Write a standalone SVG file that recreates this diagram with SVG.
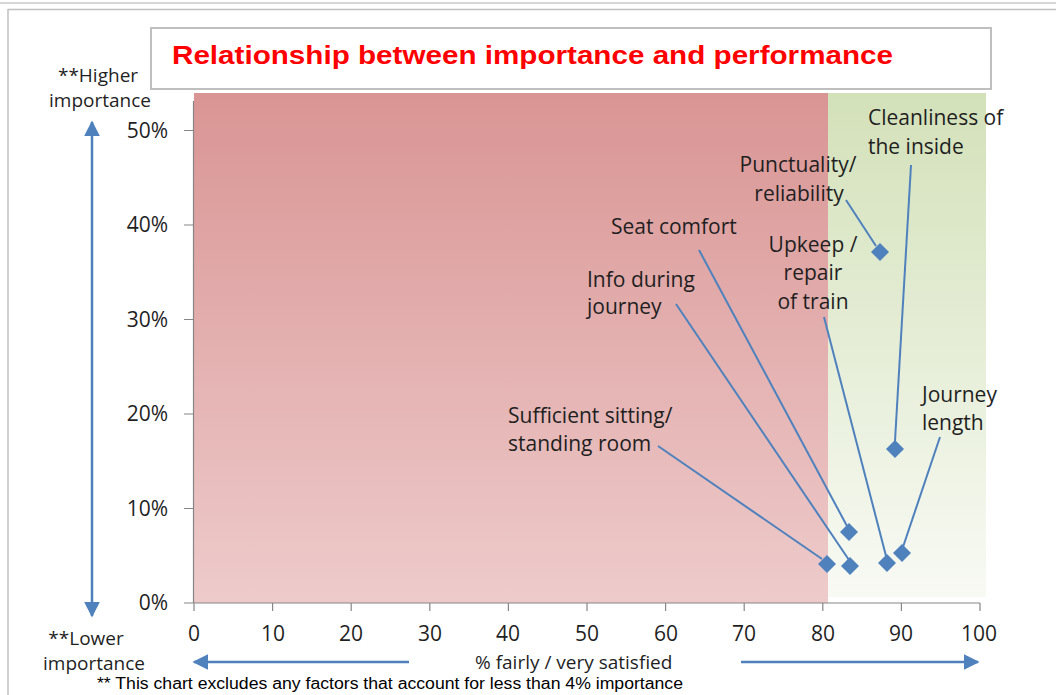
<svg xmlns="http://www.w3.org/2000/svg" width="1056" height="695" viewBox="0 0 1056 695">
<defs>
<linearGradient id="gRed" x1="0" y1="0" x2="0" y2="1">
<stop offset="0" stop-color="#d99594"/>
<stop offset="1" stop-color="#eecbcb"/>
</linearGradient>
<linearGradient id="gGreen" x1="0" y1="0" x2="0" y2="1">
<stop offset="0" stop-color="#d3e1b9"/>
<stop offset="1" stop-color="#f8faf4"/>
</linearGradient>
<marker id="ah" viewBox="0 0 10 10" refX="9" refY="5" markerWidth="6.4" markerHeight="6.4" orient="auto" markerUnits="strokeWidth">
<path d="M0,0 L10,5 L0,10 z" fill="#4f81bd"/>
</marker>
<path id="dm" d="M0,-9 L9,0 L0,9 L-9,0 z"/>
</defs>
<style>
.lbl{font-family:"Open Sans","Noto Sans",sans-serif;font-size:21px;fill:#1f1f1f}
.ax{font-family:"Open Sans","Noto Sans",sans-serif;font-size:19px;fill:#1f1f1f}
.tick{font-family:"Open Sans","Noto Sans",sans-serif;font-size:21px;fill:#1f1f1f}
.grid{stroke:#868686;stroke-width:1.2;fill:none}
.lead{stroke:#4f81bd;stroke-width:2;fill:none}
.arr{stroke:#4f81bd;stroke-width:2.5;fill:none;marker-end:url(#ah)}
.pt{fill:#4f81bd}
</style>
<rect width="1056" height="695" fill="#ffffff"/>
<g id="frame">
<line x1="0" y1="3" x2="1056" y2="3" stroke="#c8c8c8" stroke-width="1.5"/>
<line x1="8" y1="9.5" x2="1056" y2="9.5" stroke="#c0c0c0" stroke-width="1.5"/>
<line x1="8" y1="9" x2="8" y2="695" stroke="#c0c0c0" stroke-width="1.5"/>
</g>
<g id="title">
<rect x="151" y="28" width="840" height="61" fill="#ffffff" stroke="#bfbfbf" stroke-width="2"/>
<text x="172" y="64" font-family="'Liberation Sans',Arial,sans-serif" font-weight="bold" font-size="25" fill="#ff0000" textLength="721" lengthAdjust="spacingAndGlyphs">Relationship between importance and performance</text>
</g>
<g id="zones">
<rect x="194" y="93" width="634" height="510" fill="url(#gRed)"/>
<rect x="828" y="93" width="158" height="504" fill="url(#gGreen)"/>
</g>
<g id="axes">
<line class="grid" x1="193.5" y1="101" x2="193.5" y2="603"/>
<line class="grid" x1="193.5" y1="603" x2="980" y2="603"/>
<path class="grid" d="M184,130.5H193 M184,225H193 M184,319.5H193 M184,414H193 M184,508.5H193 M184,603H193"/>
<path class="grid" d="M194,603V611 M272.6,603V611 M351.2,603V611 M429.8,603V611 M508.4,603V611 M587,603V611 M665.6,603V611 M744.2,603V611 M822.8,603V611 M901.4,603V611 M980,603V611"/>
<g text-anchor="end">
<text class="tick" x="168" y="138">50%</text>
<text class="tick" x="168" y="232">40%</text>
<text class="tick" x="168" y="327">30%</text>
<text class="tick" x="168" y="421">20%</text>
<text class="tick" x="168" y="516">10%</text>
<text class="tick" x="168" y="610">0%</text>
</g>
<g text-anchor="middle">
<text class="tick" x="194" y="641">0</text>
<text class="tick" x="273" y="641">10</text>
<text class="tick" x="351" y="641">20</text>
<text class="tick" x="430" y="641">30</text>
<text class="tick" x="508" y="641">40</text>
<text class="tick" x="587" y="641">50</text>
<text class="tick" x="666" y="641">60</text>
<text class="tick" x="744" y="641">70</text>
<text class="tick" x="823" y="641">80</text>
<text class="tick" x="901" y="641">90</text>
<text class="tick" x="979" y="641">100</text>
</g>
</g>
<g id="axis-notes">
<text class="ax" x="98" y="82" text-anchor="middle">**Higher</text>
<text class="ax" x="100" y="107" text-anchor="middle">importance</text>
<text class="ax" x="86" y="645" text-anchor="middle">**Lower</text>
<text class="ax" x="94" y="670" text-anchor="middle">importance</text>
<text class="ax" x="475" y="669">% fairly / very satisfied</text>
<text x="97" y="689" font-family="'Liberation Sans',Arial,sans-serif" font-size="16" fill="#000000" textLength="586" lengthAdjust="spacingAndGlyphs">** This chart excludes any factors that account for less than 4% importance</text>
</g>
<g id="connectors">
<line class="arr" x1="92" y1="370" x2="92" y2="122"/>
<line class="arr" x1="92" y1="370" x2="92" y2="616"/>
<line class="arr" x1="409" y1="662" x2="194" y2="662"/>
<line class="arr" x1="741" y1="662" x2="978" y2="662"/>
<line class="lead" x1="846" y1="200" x2="876" y2="246"/>
<line class="lead" x1="911" y1="165" x2="895" y2="441"/>
<line class="lead" x1="824" y1="317" x2="886" y2="556"/>
<line class="lead" x1="699" y1="250" x2="847" y2="526"/>
<line class="lead" x1="676" y1="304" x2="849" y2="560"/>
<line class="lead" x1="658" y1="446" x2="822" y2="559"/>
<line class="lead" x1="940" y1="437" x2="903" y2="547"/>
</g>
<g id="punctuality">
<use href="#dm" class="pt" x="880" y="252"/>
<text class="lbl" x="798" y="172" text-anchor="middle">Punctuality/</text>
<text class="lbl" x="799" y="201" text-anchor="middle">reliability</text>
</g>
<g id="cleanliness">
<use href="#dm" class="pt" x="895" y="449"/>
<text class="lbl" x="868" y="125">Cleanliness of</text>
<text class="lbl" x="868" y="154">the inside</text>
</g>
<g id="upkeep">
<use href="#dm" class="pt" x="887" y="563"/>
<text class="lbl" x="813" y="252" text-anchor="middle">Upkeep /</text>
<text class="lbl" x="813" y="280" text-anchor="middle">repair</text>
<text class="lbl" x="813" y="309" text-anchor="middle">of train</text>
</g>
<g id="seat-comfort">
<use href="#dm" class="pt" x="849" y="532"/>
<text class="lbl" x="611" y="234">Seat comfort</text>
</g>
<g id="info-during-journey">
<use href="#dm" class="pt" x="850" y="566"/>
<text class="lbl" x="587" y="287">Info during</text>
<text class="lbl" x="587" y="314">journey</text>
</g>
<g id="sufficient-room">
<use href="#dm" class="pt" x="827" y="564"/>
<text class="lbl" x="508" y="423">Sufficient sitting/</text>
<text class="lbl" x="508" y="451">standing room</text>
</g>
<g id="journey-length">
<use href="#dm" class="pt" x="902" y="553"/>
<text class="lbl" x="922" y="402">Journey</text>
<text class="lbl" x="922" y="430">length</text>
</g>
</svg>
